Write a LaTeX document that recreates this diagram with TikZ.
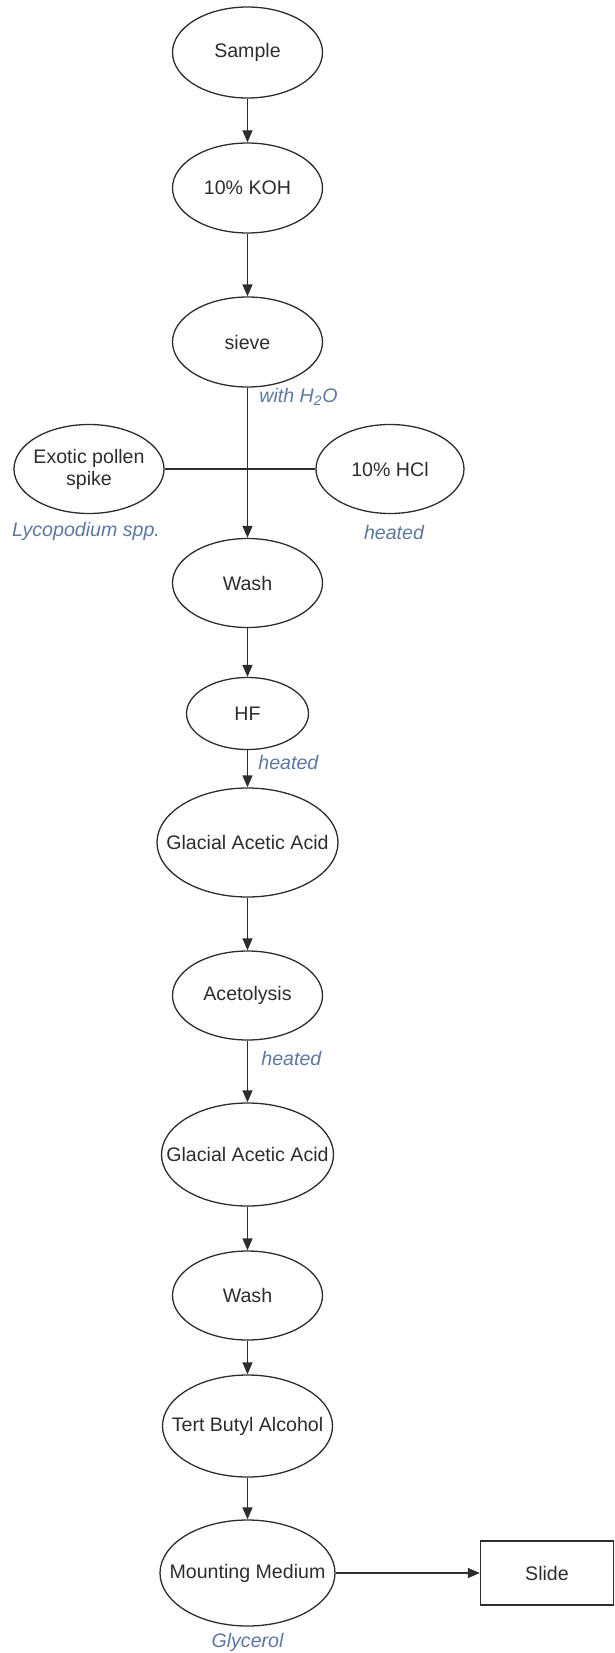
\documentclass[tikz,border=0pt]{standalone}
\usepackage{fontspec}
\setmainfont{Liberation Sans}
\usetikzlibrary{shapes.geometric,arrows.meta}
\definecolor{inkcol}{RGB}{45,45,45}
\definecolor{notecol}{RGB}{92,120,160}

\begin{document}
\begin{tikzpicture}[x=0.5pt,y=-0.5pt,
	font=\fontsize{9.8}{11}\selectfont,
	every label/.append style={text=inkcol, align=center, inner sep=0pt},
	proc/.style={ellipse, draw=inkcol, line width=0.65pt, inner sep=0pt},
	note/.style={font=\fontsize{9.8}{11}\selectfont\itshape, text=notecol, inner sep=0pt},
	flow/.style={draw=inkcol, line width=0.65pt, -{Triangle[length=6pt,width=5pt]}}]
	\useasboundingbox (0,0) rectangle (615,1653);
	% main column
	\node (sample) at (247.5,  52.5)	[proc, minimum width=75pt,   minimum height=45.5pt, label=center:Sample]	{};
	\node (koh)    at (247.5, 188)	[proc, minimum width=75pt,   minimum height=45pt,   label=center:10\% KOH]	{};
	\node (sieve)  at (247.5, 342)	[proc, minimum width=75pt,   minimum height=45pt,   label=center:sieve]	{};
	\node (wash1)  at (247.5, 583)	[proc, minimum width=75pt,   minimum height=44.5pt, label=center:Wash]	{};
	\node (hf)     at (247.5, 713.5)	[proc, minimum width=61pt,   minimum height=36pt,   label=center:HF]	{};
	\node (gaa1)   at (247.5, 842.5)	[proc, minimum width=90.5pt, minimum height=54.5pt, label=center:Glacial Acetic Acid]	{};
	\node (acet)   at (247.5, 995.5)	[proc, minimum width=75pt,   minimum height=44.5pt, label=center:Acetolysis]	{};
	\node (gaa2)   at (247.5,1154.5)	[proc, minimum width=86pt,   minimum height=51.5pt, label=center:Glacial Acetic Acid]	{};
	\node (wash2)  at (247.5,1295.5)	[proc, minimum width=75pt,   minimum height=44.5pt, label=center:Wash]	{};
	\node (tba)    at (247.5,1426)	[proc, minimum width=85pt,   minimum height=51pt,   label=center:Tert Butyl Alcohol]	{};
	\node (mm)     at (247.5,1573)	[proc, minimum width=87.5pt, minimum height=53pt,   label=center:Mounting Medium]	{};
	% side inputs
	\node (exotic) at ( 89, 469)	[proc, minimum width=75pt, minimum height=44.5pt, label={center:Exotic pollen\\spike}]	{};
	\node (hcl)    at (390, 469)	[proc, minimum width=74pt, minimum height=44.5pt, label=center:10\% HCl]	{};
	\node (slide)  at (547,1573)	[rectangle, draw=inkcol, line width=0.65pt, minimum width=66.5pt, minimum height=32pt, text=inkcol]	{Slide};
	% notes
	\node (waternote) at (259, 397)	[note, anchor=west]	{with H\textsubscript{2}O};
	\node (sporenote) at ( 86, 531)	[note]	{Lycopodium spp.};
	\node (hclnote)   at (394, 532)	[note]	{heated};
	\node (hfnote)    at (258, 762)	[note, anchor=west]	{heated};
	\node (acetnote)  at (261,1058)	[note, anchor=west]	{heated};
	\node (glynote)   at (247.5,1642)	[note]	{Glycerol};
	% connectors
	\draw[flow] (sample) -- (koh);
	\draw[flow] (koh) -- (sieve);
	\draw[flow] (sieve) -- (wash1);
	\draw[draw=inkcol, line width=0.65pt] (exotic) -- (hcl);
	\draw[flow] (wash1) -- (hf);
	\draw[flow] (hf) -- (gaa1);
	\draw[flow] (gaa1) -- (acet);
	\draw[flow] (acet) -- (gaa2);
	\draw[flow] (gaa2) -- (wash2);
	\draw[flow] (wash2) -- (tba);
	\draw[flow] (tba) -- (mm);
	\draw[flow] (mm) -- (slide);
\end{tikzpicture}
\end{document}
